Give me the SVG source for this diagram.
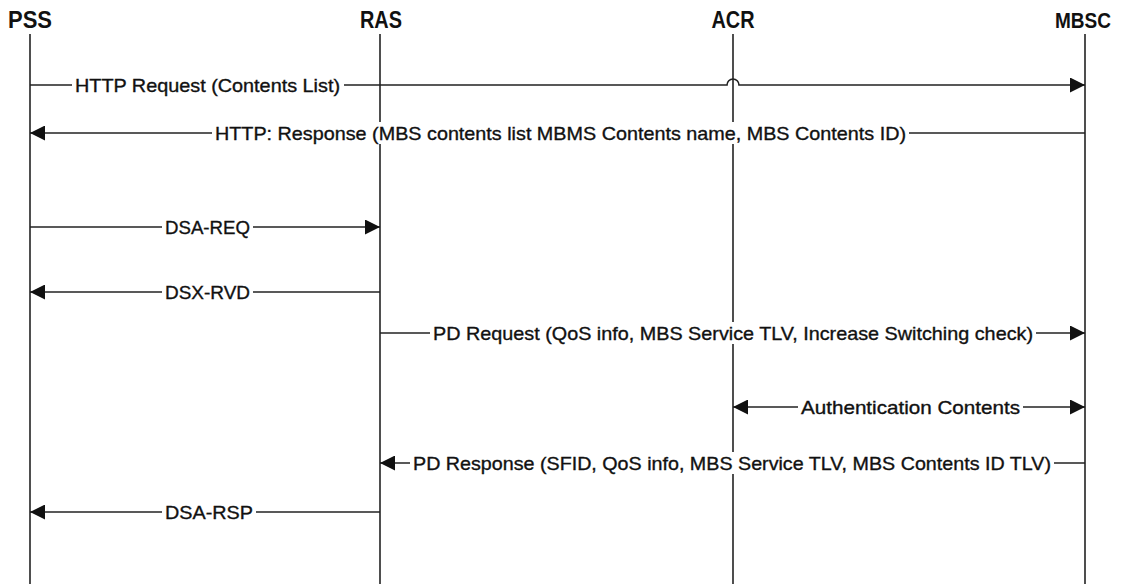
<svg xmlns="http://www.w3.org/2000/svg" width="1121" height="584" viewBox="0 0 1121 584">
<style>
.hdr{font-family:"Liberation Sans",Arial,sans-serif;font-size:24px;font-weight:bold;fill:#111;text-anchor:middle}
.lbl{font-family:"Liberation Sans",Arial,sans-serif;font-size:19px;fill:#111;stroke:#111;stroke-width:0.35}
.life{stroke:#222;stroke-width:1.6;fill:none}
.msg{stroke:#222;stroke-width:1.6;fill:none}
.bg{fill:#fff}
</style>
<defs>
<marker id="ah" viewBox="0 0 10 10" refX="10" refY="5" markerUnits="userSpaceOnUse" markerWidth="21" markerHeight="15" orient="auto-start-reverse">
<path d="M0,0 L10,5 L0,10 z" fill="#111"/>
</marker>
</defs>
<rect width="1121" height="584" fill="#fff"/>
<g id="PSS"><text class="hdr" x="30" y="28" textLength="44" lengthAdjust="spacingAndGlyphs">PSS</text><line class="life" x1="30" y1="34" x2="30" y2="584"/></g>
<g id="RAS"><text class="hdr" x="381" y="28" textLength="42" lengthAdjust="spacingAndGlyphs">RAS</text><line class="life" x1="380" y1="34" x2="380" y2="584"/></g>
<g id="ACR"><text class="hdr" x="733" y="28" textLength="43" lengthAdjust="spacingAndGlyphs">ACR</text><line class="life" x1="733" y1="34" x2="733" y2="584"/></g>
<g id="MBSC"><text class="hdr" x="1083" y="28" style="font-size:22px" textLength="56" lengthAdjust="spacingAndGlyphs">MBSC</text><line class="life" x1="1085" y1="34" x2="1085" y2="584"/></g>
<g id="connectors">
<path class="msg" d="M30,85 H727 a6,6 0 0 1 12,0 H1085" marker-end="url(#ah)"/>
<rect class="bg" x="72" y="74" width="272" height="22"/>
<text class="lbl" x="75" y="92" textLength="265" lengthAdjust="spacingAndGlyphs">HTTP Request (Contents List)</text>

<line class="msg" x1="1085" y1="133" x2="30" y2="133" marker-end="url(#ah)"/>
<rect class="bg" x="212" y="122" width="697" height="22"/>
<text class="lbl" x="215" y="140" textLength="691" lengthAdjust="spacingAndGlyphs">HTTP: Response (MBS contents list MBMS Contents name, MBS Contents ID)</text>

<line class="msg" x1="30" y1="227" x2="380" y2="227" marker-end="url(#ah)"/>
<rect class="bg" x="162" y="216" width="91" height="22"/>
<text class="lbl" x="165" y="234" textLength="85" lengthAdjust="spacingAndGlyphs">DSA-REQ</text>

<line class="msg" x1="380" y1="292" x2="30" y2="292" marker-end="url(#ah)"/>
<rect class="bg" x="162" y="281" width="91" height="22"/>
<text class="lbl" x="165" y="299" textLength="85" lengthAdjust="spacingAndGlyphs">DSX-RVD</text>

<line class="msg" x1="380" y1="333" x2="1085" y2="333" marker-end="url(#ah)"/>
<rect class="bg" x="430" y="322" width="606" height="22"/>
<text class="lbl" x="433" y="340" textLength="600" lengthAdjust="spacingAndGlyphs">PD Request (QoS info, MBS Service TLV, Increase Switching check)</text>

<line class="msg" x1="733" y1="407" x2="1085" y2="407" marker-start="url(#ah)" marker-end="url(#ah)"/>
<rect class="bg" x="798" y="396" width="225" height="22"/>
<text class="lbl" x="801" y="414" textLength="219" lengthAdjust="spacingAndGlyphs">Authentication Contents</text>

<line class="msg" x1="1085" y1="463" x2="380" y2="463" marker-end="url(#ah)"/>
<rect class="bg" x="410" y="452" width="644" height="22"/>
<text class="lbl" x="413" y="470" textLength="638" lengthAdjust="spacingAndGlyphs">PD Response (SFID, QoS info, MBS Service TLV, MBS Contents ID TLV)</text>

<line class="msg" x1="380" y1="512" x2="30" y2="512" marker-end="url(#ah)"/>
<rect class="bg" x="162" y="501" width="94" height="22"/>
<text class="lbl" x="165" y="519" textLength="88" lengthAdjust="spacingAndGlyphs">DSA-RSP</text>
</g>
</svg>
